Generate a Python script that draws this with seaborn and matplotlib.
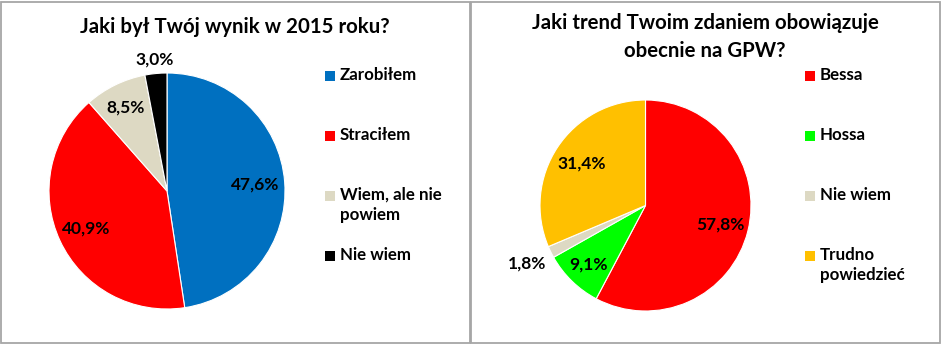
import numpy as np
import matplotlib
matplotlib.use("Agg")
import matplotlib.pyplot as plt
from matplotlib.patches import Rectangle
import seaborn as sns

# ---- data ----
left_title = "Jaki był Twój wynik w 2015 roku?"
left_labels = ["Zarobiłem", "Straciłem", "Wiem, ale nie\npowiem", "Nie wiem"]
left_values = [47.6, 40.9, 8.5, 3.0]
left_colors = ["#0070C0", "#FF0000", "#DDD9C3", "#000000"]

right_title = "Jaki trend Twoim zdaniem obowiązuje\nobecnie na GPW?"
right_labels = ["Bessa", "Hossa", "Nie wiem", "Trudno\npowiedzieć"]
right_values = [57.8, 9.1, 1.8, 31.4]
right_colors = ["#FF0000", "#00FF00", "#DDD9C3", "#FFC000"]

sns.set_theme(style="white")
plt.rcParams["font.family"] = ["Lato", "DejaVu Sans"]

W, H = 945, 350
fig = plt.figure(figsize=(W / 100, H / 100), dpi=100)
fig.patch.set_facecolor("white")


def fx(x):
    return x / W


def fy(y):
    return 1 - y / H


# panel borders
for (x0, x1) in [(1.5, 470.5), (471.5, 940.5)]:
    fig.patches.append(Rectangle((fx(x0), fy(342.5)), fx(x1 - x0), (342.5 - 1.5) / H,
                                 transform=fig.transFigure, fill=False,
                                 edgecolor="#A6A6A6", linewidth=1.3))


def draw_pie(values, colors, labels, cx, cy, r, dists, title, tx, ty, lx, ly0, lstep):
    ax = fig.add_axes([fx(cx - r), fy(cy + r), 2 * r / W, 2 * r / H])
    wedges, _ = ax.pie(values, colors=colors, startangle=90, counterclock=False,
                       radius=1.0, wedgeprops=dict(edgecolor="white", linewidth=0.8))
    ax.set_xlim(-1, 1)
    ax.set_ylim(-1, 1)
    ax.set_aspect("equal")
    ax.axis("off")
    for w, v, d in zip(wedges, values, dists):
        mid = np.deg2rad((w.theta1 + w.theta2) / 2)
        ax.text(d * np.cos(mid), d * np.sin(mid), f"{v:.1f}%".replace(".", ","),
                ha="center", va="center", fontsize=12.5, fontweight="bold",
                color="black", clip_on=False)
    fig.text(fx(tx), fy(ty), title, ha="center", va="center", fontsize=14.7,
             fontweight="bold", color="black", linespacing=1.5)
    for i, (lab, col) in enumerate(zip(labels, colors)):
        y = ly0 + i * lstep
        fig.patches.append(Rectangle((fx(lx), fy(y + 5)), 10 / W, 10 / H,
                                     transform=fig.transFigure, facecolor=col,
                                     edgecolor="none"))
        fig.text(fx(lx + 15), fy(y - 9), lab, ha="left", va="top", fontsize=12.2,
                 fontweight="bold", color="black", linespacing=1.3)


draw_pie(left_values, left_colors, left_labels, 167, 191, 118,
         [0.75, 0.76, 0.79, 1.12], left_title, 235, 27, 325, 76, 60)
draw_pie(right_values, right_colors, right_labels, 645.5, 205.5, 105.5,
         [0.73, 0.78, 1.25, 0.72], right_title, 705, 37, 805, 76, 60)

fig.savefig("out.png", dpi=100, facecolor="white")
